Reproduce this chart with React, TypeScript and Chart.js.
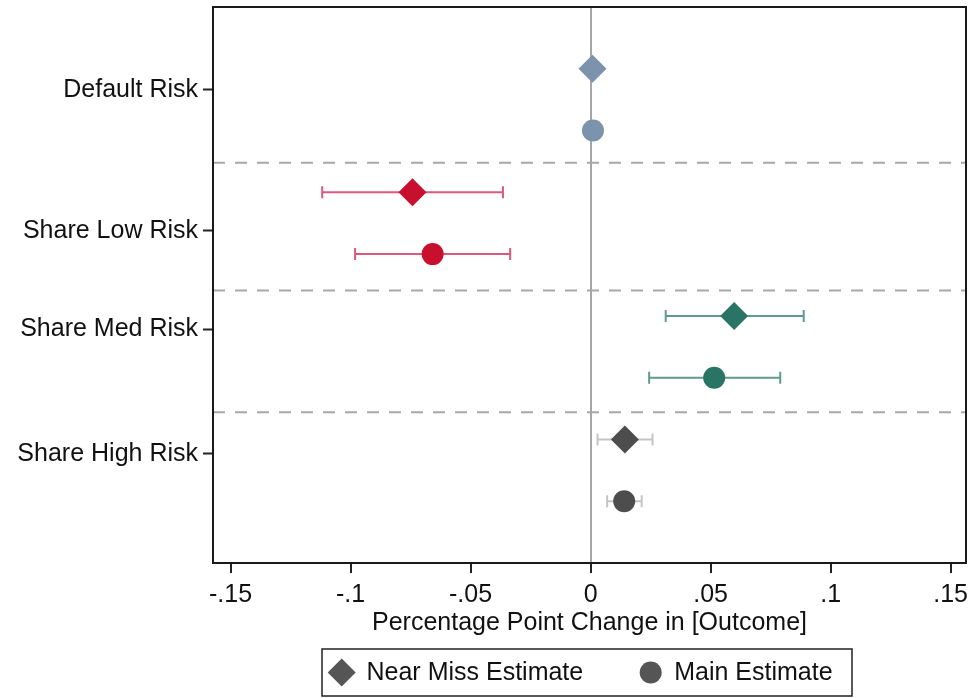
import React, { useEffect, useRef } from "react";
import { Chart, registerables } from "chart.js";

Chart.register(...registerables);

const FONT = "'Liberation Sans', Arial, Helvetica, sans-serif";

// ---- data ----
const categories = ["Default Risk", "Share Low Risk", "Share Med Risk", "Share High Risk"];
const categoryLabelPos = [1.34, 3.62, 5.22, 7.23];
const separatorPos = [2.52, 4.59, 6.56];

const nearMissPos = [1, 3, 5, 7];
const nearMissEst = [0.0008, -0.0742, 0.0598, 0.0143];
const nearMissLo = [-0.001, -0.1118, 0.0313, 0.0029];
const nearMissHi = [0.003, -0.0365, 0.0888, 0.0258];

const mainPos = [2, 4, 6, 8];
const mainEst = [0.001, -0.0658, 0.0515, 0.014];
const mainLo = [-0.001, -0.0981, 0.0244, 0.0069];
const mainHi = [0.003, -0.0335, 0.079, 0.0213];

const xTicks = [-0.15, -0.1, -0.05, 0, 0.05, 0.1, 0.15];
const xTickLabels = ["-.15", "-.1", "-.05", "0", ".05", ".1", ".15"];
const xTitle = "Percentage Point Change in [Outcome]";
const seriesLabels = ["Near Miss Estimate", "Main Estimate"];

const markerColors = ["#7b93ad", "#c8102e", "#2a7466", "#4d4d4d"];
const ciColors = ["#a3b4c7", "#db5a7c", "#5f9a8b", "#c4c4c4"];

const ciSeries = [
  { pos: nearMissPos, lo: nearMissLo, hi: nearMissHi },
  { pos: mainPos, lo: mainLo, hi: mainHi },
];

const framePlugin = {
  id: "frame",
  beforeDatasetsDraw(chart: any) {
    const { ctx, chartArea: ca, scales } = chart;
    ctx.save();
    // dashed separators
    ctx.strokeStyle = "#a8a8a8";
    ctx.lineWidth = 2;
    ctx.setLineDash([12, 10]);
    separatorPos.forEach((v) => {
      const y = scales.y.getPixelForValue(v);
      ctx.beginPath();
      ctx.moveTo(ca.left, y);
      ctx.lineTo(ca.right, y);
      ctx.stroke();
    });
    ctx.setLineDash([]);
    // error bars
    ciSeries.forEach((s) => {
      s.pos.forEach((p, i) => {
        const y = scales.y.getPixelForValue(p);
        const x1 = scales.x.getPixelForValue(s.lo[i]);
        const x2 = scales.x.getPixelForValue(s.hi[i]);
        ctx.strokeStyle = ciColors[i];
        ctx.lineWidth = 2;
        ctx.beginPath();
        ctx.moveTo(x1, y);
        ctx.lineTo(x2, y);
        ctx.moveTo(x1, y - 6);
        ctx.lineTo(x1, y + 6);
        ctx.moveTo(x2, y - 6);
        ctx.lineTo(x2, y + 6);
        ctx.stroke();
      });
    });
    ctx.restore();
  },
  afterDraw(chart: any) {
    const { ctx, chartArea: ca } = chart;
    ctx.save();
    ctx.strokeStyle = "#1a1a1a";
    ctx.lineWidth = 2;
    ctx.strokeRect(ca.left, ca.top, ca.right - ca.left, ca.bottom - ca.top);

    // legend box
    const w = 530;
    const h = 47;
    const cx = (ca.left + ca.right) / 2 - 2.5;
    const left = cx - w / 2;
    const top = 649;
    const cy = top + h / 2;
    ctx.lineWidth = 1.5;
    ctx.strokeStyle = "#222";
    ctx.strokeRect(left, top, w, h);

    ctx.fillStyle = "#555555";
    const dx = left + 19.7;
    ctx.beginPath();
    ctx.moveTo(dx - 14, cy);
    ctx.lineTo(dx, cy - 14);
    ctx.lineTo(dx + 14, cy);
    ctx.lineTo(dx, cy + 14);
    ctx.closePath();
    ctx.fill();

    ctx.beginPath();
    ctx.arc(left + 328.7, cy, 11, 0, Math.PI * 2);
    ctx.fill();

    ctx.fillStyle = "#111";
    ctx.font = `25px ${FONT}`;
    ctx.textBaseline = "middle";
    ctx.textAlign = "left";
    ctx.fillText(seriesLabels[0], left + 44.5, cy + 1);
    ctx.fillText(seriesLabels[1], left + 352.2, cy + 1);
    ctx.restore();
  },
};

export default function App() {
  const ref = useRef<HTMLCanvasElement>(null);

  useEffect(() => {
    const canvas = ref.current;
    if (!canvas) return;
    const chart = new Chart(canvas, {
      type: "scatter",
      data: {
        datasets: [
          {
            label: seriesLabels[0],
            data: nearMissEst.map((x, i) => ({ x, y: nearMissPos[i] })),
            pointStyle: "rectRot",
            pointRadius: 14,
            pointBackgroundColor: markerColors,
            pointBorderColor: markerColors,
            pointBorderWidth: 0,
          },
          {
            label: seriesLabels[1],
            data: mainEst.map((x, i) => ({ x, y: mainPos[i] })),
            pointStyle: "circle",
            pointRadius: 11,
            pointBackgroundColor: markerColors,
            pointBorderColor: markerColors,
            pointBorderWidth: 0,
          },
        ],
      },
      options: {
        animation: false,
        responsive: false,
        events: [],
        layout: { autoPadding: false, padding: { top: 7, right: 6, bottom: 59.5, left: 0 } },
        plugins: {
          legend: { display: false },
          tooltip: { enabled: false },
        },
        scales: {
          x: {
            type: "linear",
            min: -0.1573,
            max: 0.1564,
            afterBuildTicks: (s: any) => {
              s.ticks = xTicks.map((v) => ({ value: v }));
            },
            afterFit: (s: any) => {
              s.height = 75.5;
              s.paddingLeft = 0;
              s.paddingRight = 0;
              s.paddingTop = 0;
              s.paddingBottom = 0;
            },
            ticks: {
              autoSkip: false,
              maxRotation: 0,
              padding: 7,
              color: "#111",
              font: { family: FONT, size: 25 },
              callback: (_v: any, i: number) => xTickLabels[i],
            },
            grid: {
              color: (c: any) => (c.tick && c.tick.value === 0 ? "#a6a6a6" : "rgba(0,0,0,0)"),
              lineWidth: 2,
              drawTicks: true,
              tickLength: 10,
              tickColor: "#222",
              tickWidth: 2,
            },
            border: { display: false },
            title: {
              display: true,
              text: xTitle,
              color: "#111",
              font: { family: FONT, size: 25 },
              padding: { top: 0, bottom: 0 },
            },
          },
          y: {
            type: "linear",
            reverse: true,
            min: 0,
            max: 9,
            afterBuildTicks: (s: any) => {
              s.ticks = categoryLabelPos.map((v) => ({ value: v }));
            },
            afterFit: (s: any) => {
              s.width = 213;
              s.paddingTop = 0;
              s.paddingBottom = 0;
              s.paddingLeft = 0;
              s.paddingRight = 0;
            },
            ticks: {
              autoSkip: false,
              padding: 5,
              color: "#111",
              font: { family: FONT, size: 25 },
              callback: (_v: any, i: number) => categories[i],
            },
            grid: {
              drawOnChartArea: false,
              drawTicks: true,
              tickLength: 10,
              tickColor: "#222",
              tickWidth: 2,
            },
            border: { display: false },
          },
        },
      } as any,
      plugins: [framePlugin],
    });
    return () => chart.destroy();
  }, []);

  return (
    <div style={{ position: "fixed", left: 0, top: 0, width: 972, height: 698, background: "#fff" }}>
      <canvas ref={ref} width={972} height={698} style={{ display: "block", width: 972, height: 698 }} />
    </div>
  );
}
